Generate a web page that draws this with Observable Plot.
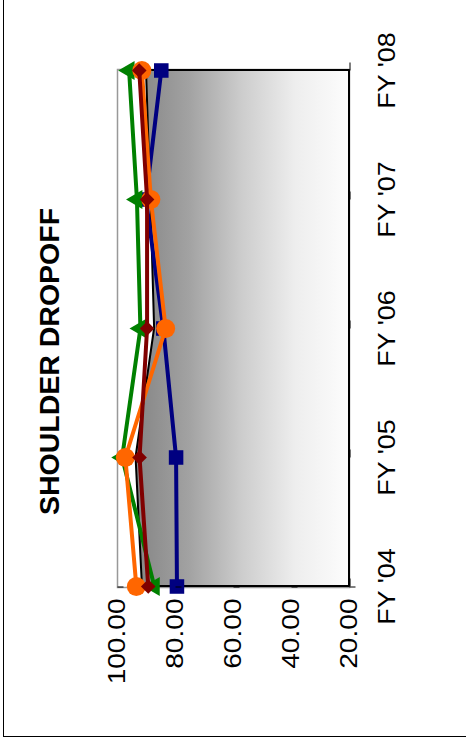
<!DOCTYPE html>
<html>
<head>
<meta charset="utf-8">
<script src="https://cdn.jsdelivr.net/npm/d3@7"></script>
<script src="https://cdn.jsdelivr.net/npm/@observablehq/plot@0.6"></script>
<style>
  html, body { margin: 0; padding: 0; background: #fff; overflow: hidden; }
  #wrap { position: relative; width: 466px; height: 744px; }
  #border { position: absolute; left: 3px; top: -2px; width: 520px; height: 738px;
            border-left: 1px solid #000; border-bottom: 1px solid #000; }
  #chart { position: absolute; left: 0; top: 0; }
</style>
</head>
<body>
<div id="wrap"><div id="border"></div><div id="chart"></div></div>
<script>
// ---- data ----
const title = "SHOULDER DROPOFF";
const categories = ["FY '04", "FY '05", "FY '06", "FY '07", "FY '08"];
const valueTicks = [100, 80, 60, 40, 20];
const valueMin = 20;
const valueMax = 100;
const areaSeries = [91.4, 93.6, 87.2, 88.5, 90.0];   // black, gradient-filled area
const navySeries = [79.5, 79.8, 84.2, 90.2, 84.9];   // squares
const greenSeries = [87.3, 98.4, 92.1, 93.3, 96.0];  // triangles
const orangeSeries = [93.5, 97.3, 83.4, 88.5, 91.6]; // circles
const redSeries = [89.4, 92.4, 89.8, 89.8, 92.5];    // diamonds

const toRows = (vals) => categories.map((c, i) => ({cat: c, value: vals[i], base: valueMin}));

const gradientDefs = () => {
  const defs = d3.create("svg:defs");
  const g = defs.append("linearGradient").attr("id", "areaGrad")
    .attr("x1", 0).attr("x2", 1).attr("y1", 0).attr("y2", 0);
  [[0, "#858585"], [0.25, "#a2a2a2"], [0.5, "#cdcdcd"], [0.75, "#eeeeee"], [1, "#fdfdfd"]]
    .forEach(([o, c]) => g.append("stop").attr("offset", o).attr("stop-color", c));
  return defs.node();
};

function series(vals, color, symbol, r, extra = {}) {
  const rows = toRows(vals);
  return [
    Plot.line(rows, {x: "value", y: "cat", stroke: color, strokeWidth: 4}),
    Plot.dot(rows, {x: "value", y: "cat", fill: color, stroke: "none", symbol, r, ...extra})
  ];
}

const chart = Plot.plot({
  width: 466,
  height: 744,
  marginLeft: 117,
  marginRight: 117,
  marginTop: 69,
  marginBottom: 157,
  style: {fontFamily: "'Liberation Sans', Arial, sans-serif", background: "transparent", overflow: "visible", color: "#000"},
  x: {domain: [valueMax, valueMin], label: null},
  y: {type: "point", domain: categories.slice().reverse(), padding: 0, label: null},
  marks: [
    gradientDefs,
    Plot.frame({stroke: "#999", strokeWidth: 1.5}),
    Plot.areaX(toRows(areaSeries), {y: "cat", x1: "base", x2: "value", fill: "url(#areaGrad)", stroke: "#000", strokeWidth: 2}),
    ...series(navySeries, "#000080", "square", 8.2),
    ...series(greenSeries, "#008000", "triangle", 7, {rotate: -90}),
    ...series(orangeSeries, "#FF6600", "circle", 9.5),
    ...series(redSeries, "#800000", "diamond2", 6.6),
    Plot.axisX({anchor: "bottom", ticks: valueTicks, tickFormat: d3.format(".2f"), tickSize: 6, tickPadding: 5,
      rotate: -90, textAnchor: "end", lineAnchor: "middle", fontSize: 24, label: null}),
    Plot.axisY({anchor: "right", tickSize: 8, tickPadding: 20, rotate: -90, textAnchor: "middle",
      lineAnchor: "top", fontSize: 24, label: null}),
    Plot.text([title], {frameAnchor: "left", rotate: -90, dx: -79, dy: 33, lineAnchor: "top",
      textAnchor: "middle", fontSize: 28.5, fontWeight: "bold", fill: "#000"})
  ]
});

// the reference's tick labels are horizontally stretched glyphs
function stretch(sel, k) {
  chart.querySelectorAll(sel).forEach((t) => {
    const tr = t.getAttribute("transform") || "";
    t.setAttribute("transform", tr + ` scale(${k},1)`);
  });
}
stretch('g[aria-label="x-axis tick label"] text', 1.17);
stretch('g[aria-label="y-axis tick label"] text', 1.12);

document.getElementById("chart").appendChild(chart);
</script>
</body>
</html>
